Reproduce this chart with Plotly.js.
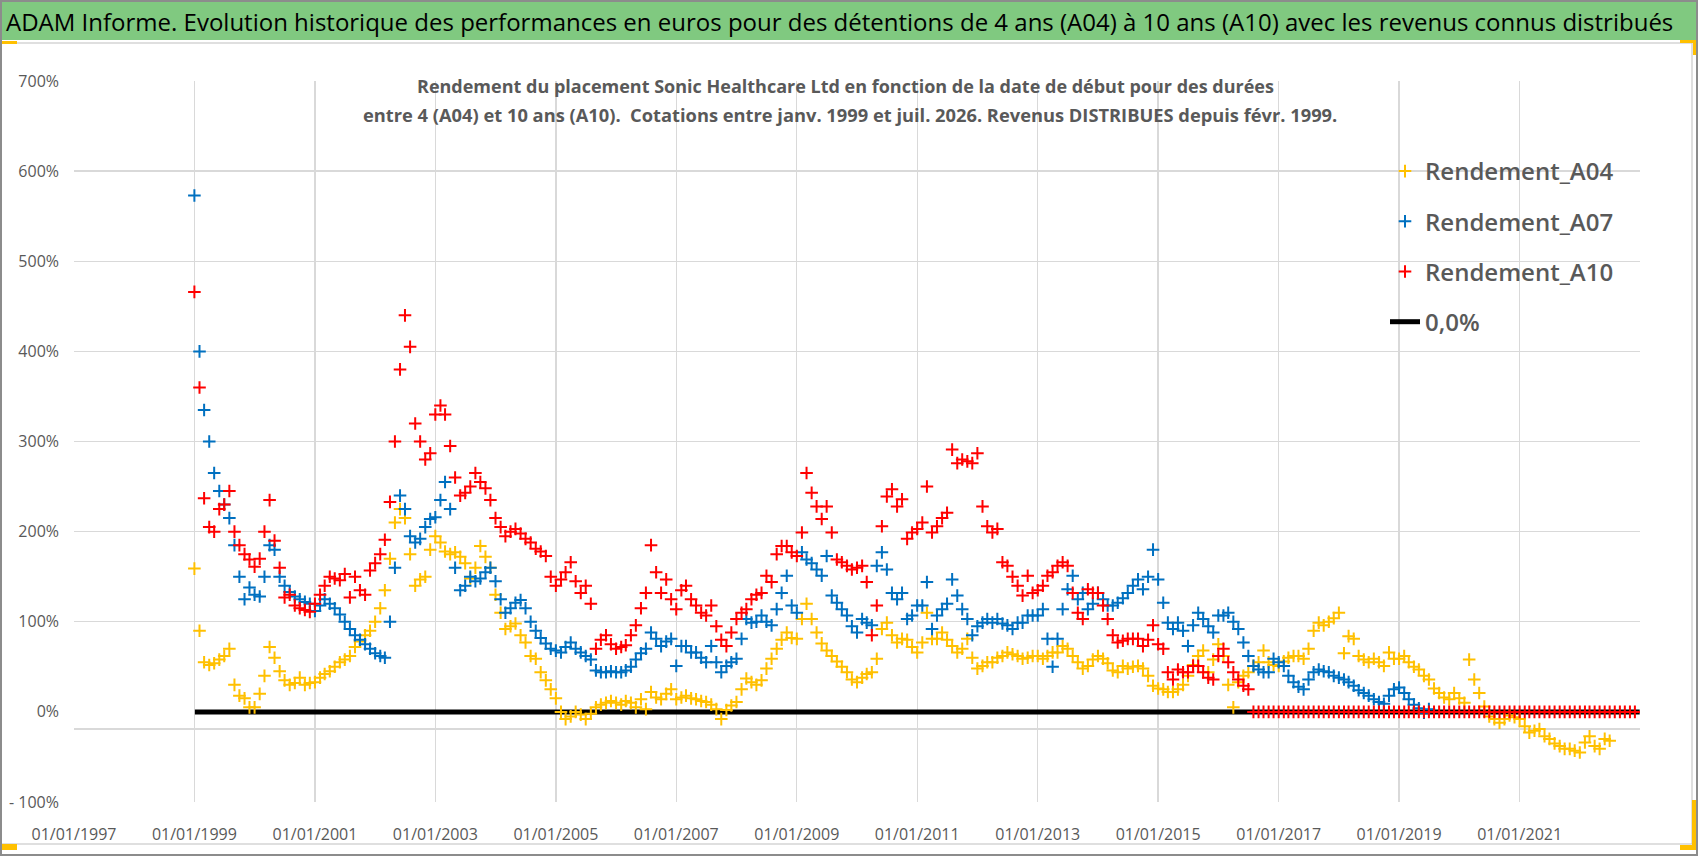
<!DOCTYPE html>
<html>
<head>
<meta charset="utf-8">
<script src="https://cdn.plot.ly/plotly-3.0.1.min.js"></script>
<style>
  html, body { margin: 0; padding: 0; background: #fff; }
  #wrap { position: relative; width: 1698px; height: 856px; }
  #chart { width: 1698px; height: 856px; }
  #frame { position: absolute; left: 0; top: 0; width: 1698px; height: 856px;
           box-sizing: border-box; border: 2px solid #8c8c8c; pointer-events: none; }
</style>
</head>
<body>
<div id="wrap"><div id="chart"></div><div id="frame"></div></div>
<script>
// monthly readings (first of month), in %
const a04Start = [1999, 1];
const a04 = [
  159, 90, 55, 52, 54, 58, 62, 70, 30, 18, 15, 5,        // 1999
  5, 20, 40, 72, 60, 45, 35, 30, 32, 38, 30, 32,         // 2000
  33, 38, 42, 45, 50, 55, 58, 62, 72, 78, 85, 90,        // 2001
  100, 115, 135, 170, 210, 225, 215, 175, 140, 147, 150, 180,
  195, 188, 178, 175, 177, 172, 165, 148, 160, 184, 172, 160,
  130, 110, 92, 95, 98, 85, 77, 62, 59, 44, 35, 25,      // 2004
  15, 0, -8, -5, 0, -3, -8, -2, 5, 8, 10, 12,
  10, 8, 12, 10, 5, 14, 3, 22, 16, 14, 20, 25,
  14, 16, 18, 15, 14, 12, 11, 8, 3, -8, 2, 7,            // 2007
  11, 25, 37, 33, 30, 35, 48, 59, 70, 80, 88, 82,
  81, 103, 120, 103, 88, 76, 68, 62, 56, 50, 44, 36,
  33, 38, 42, 44, 59, 92, 99, 85, 77, 81, 80, 72,        // 2010
  66, 77, 110, 81, 81, 88, 80, 73, 66, 70, 81, 60,
  48, 51, 55, 55, 60, 62, 66, 64, 62, 59, 60, 62,
  62, 59, 62, 66, 66, 73, 70, 62, 55, 48, 51, 58,        // 2013
  62, 59, 54, 46, 44, 51, 48, 50, 51, 48, 40, 29,
  26, 25, 22, 22, 25, 30, 40, 52, 62, 68, 44, 58,
  75, 62, 30, 5, 33, 40, 44, 51, 55, 68, 55, 52,         // 2016
  51, 56, 60, 62, 62, 59, 70, 90, 99, 96, 100, 104,
  110, 65, 84, 81, 62, 58, 55, 59, 55, 51, 66, 59,
  59, 62, 55, 50, 47, 40, 36, 26, 21, 16, 14, 21,        // 2019
  15, 10, 58, 36, 21, 6, -5, -8, -12, -8, -4, -6,
  -8, -16, -23, -21, -19, -27, -30, -35, -38, -41, -41, -43,
  -45, -34, -27, -38, -41, -30, -32                      // 2022
];

const a07Start = [1999, 1];
const a07 = [
  573, 400, 335, 300, 265, 245, 230, 215, 185, 150, 125, 138,   // 1999
  130, 128, 150, 185, 180, 150, 140, 133, 128, 125, 122, 120,
  112, 118, 125, 120, 115, 108, 100, 92, 85, 80, 75, 70,
  65, 62, 60, 100, 160, 240, 225, 195, 188, 192, 205, 214,      // 2002
  216, 235, 255, 225, 160, 135, 140, 150, 145, 148, 155, 160,
  145, 125, 110, 115, 121, 124, 115, 100, 90, 82, 76, 70,
  68, 66, 72, 77, 70, 66, 62, 58, 46, 44, 44, 45,               // 2005
  44, 44, 46, 50, 58, 65, 70, 88, 81, 73, 78, 81,
  51, 73, 73, 66, 66, 60, 55, 73, 55, 44, 51, 55,
  59, 81, 103, 99, 100, 107, 100, 96, 114, 132, 151, 118,       // 2008
  110, 177, 169, 165, 158, 151, 173, 129, 121, 114, 107, 95,
  88, 103, 99, 96, 162, 177, 158, 132, 125, 132, 103, 107,
  118, 118, 144, 92, 107, 114, 120, 147, 129, 114, 103, 85,     // 2011
  95, 99, 103, 99, 103, 98, 96, 92, 99, 99, 107, 107,
  107, 114, 81, 50, 81, 114, 136, 151, 125, 132, 114, 120,
  132, 125, 118, 118, 121, 126, 132, 140, 147, 136, 150, 180,   // 2014
  147, 121, 99, 92, 99, 90, 73, 96, 110, 103, 95, 88,
  107, 107, 110, 100, 92, 77, 62, 51, 47, 44, 44, 59,
  55, 51, 40, 33, 28, 25, 36, 44, 47, 45, 44, 40,               // 2017
  38, 36, 33, 29, 24, 21, 18, 14, 11, 9, 18, 25,
  27, 21, 14, 8, 4, -1, 3                                       // 2019
];

const a10Start = [1999, 1];
const a10 = [
  466, 360, 237, 205, 200, 225, 230, 245, 200, 185, 175, 169,   // 1999
  161, 170, 200, 235, 190, 160, 127, 130, 118, 115, 113, 111,
  120, 130, 140, 150, 148, 146, 153, 127, 150, 135, 130, 157,
  165, 175, 191, 233, 300, 380, 440, 405, 320, 300, 280, 287,   // 2002
  330, 340, 330, 295, 260, 240, 243, 250, 265, 255, 248, 235,
  215, 205, 195, 200, 203, 198, 192, 188, 181, 178, 173, 150,
  140, 147, 155, 166, 145, 132, 140, 120, 70, 80, 85, 75,       // 2005
  70, 72, 74, 85, 96, 115, 132, 185, 155, 132, 147, 125,
  114, 135, 140, 125, 118, 110, 107, 118, 95, 80, 73, 88,
  103, 110, 114, 125, 130, 132, 151, 144, 175, 184, 184, 177,   // 2008
  173, 199, 265, 243, 228, 214, 228, 199, 169, 166, 162, 158,
  160, 162, 144, 85, 118, 206, 239, 247, 228, 236, 192, 199,
  203, 210, 250, 199, 206, 215, 221, 291, 276, 280, 278, 276,   // 2011
  287, 228, 206, 199, 203, 166, 162, 150, 140, 129, 151, 132,
  135, 140, 151, 155, 162, 166, 162, 132, 110, 103, 136, 132,
  132, 118, 103, 85, 77, 79, 81, 81, 81, 73, 80, 96,            // 2014
  75, 70, 44, 36, 47, 44, 44, 51, 51, 44, 38, 36,
  62, 70, 55, 44, 36, 29, 25,                                   // 2016 (to July)
  0, 0, 0, 0, 0,                                                // Aug-Dec 2016: no data, shown as 0
  0, 0, 0, 0, 0, 0, 0, 0, 0, 0, 0, 0,
  0, 0, 0, 0, 0, 0, 0, 0, 0, 0, 0, 0,
  0, 0, 0, 0, 0, 0, 0, 0, 0, 0, 0, 0,
  0, 0, 0, 0, 0, 0, 0, 0, 0, 0, 0, 0,
  0, 0, 0, 0, 0, 0, 0, 0, 0, 0, 0, 0,
  0, 0, 0, 0, 0, 0, 0, 0, 0, 0, 0, 0                            // 2022
];

const zeroLineDates = ['1999-01-04', '2022-12-30'];
const zeroLineValues = [0, 0];

const xTicks = ['1997-01-01', '1999-01-01', '2001-01-01', '2003-01-01', '2005-01-01', '2007-01-01',
                '2009-01-01', '2011-01-01', '2013-01-01', '2015-01-01', '2017-01-01', '2019-01-01', '2021-01-01'];
const yTicks = [-100, 0, 100, 200, 300, 400, 500, 600, 700];
const yTickText = ['- 100%', '0%', '100%', '200%', '300%', '400%', '500%', '600%', '700%'];
// excel puts the horizontal lines here (none at 0, one a bit below it)
const gridLevels = [-100, -19, 100, 200, 300, 400, 500, 600, 700];

const seriesNames = ['Rendement_A04', 'Rendement_A07', 'Rendement_A10', '0,0%'];

const TITLE = 'ADAM Informe. Evolution historique des performances en euros pour des détentions de 4 ans (A04) à 10 ans (A10) avec les revenus connus distribués';
const SUB1 = 'Rendement du placement Sonic Healthcare Ltd en fonction de la date de début pour des durées';
const SUB2 = 'entre 4 (A04) et 10 ans (A10).  Cotations entre janv. 1999 et juil. 2026. Revenus DISTRIBUES depuis févr. 1999.';

const FONT = '"Open Sans", "Noto Sans", sans-serif';
const GREY = '#595959';
const GRID = '#d9d9d9';

// plot area in pixels, used to place boxes/texts around it
const W = 1698, H = 856;
const plotL = 74, plotR = 1640, plotT = 81, plotB = 802;
function px(x) { return (x - plotL) / (plotR - plotL); }
function py(y) { return (plotB - y) / (plotB - plotT); }

function monthDates(start, n) {
  let out = [];
  for (let i = 0; i < n; i++) {
    let m = start[1] - 1 + i;
    let y = start[0] + Math.floor(m / 12);
    let mm = (m % 12) + 1;
    out.push(y + '-' + (mm < 10 ? '0' : '') + mm + '-01');
  }
  return out;
}

function crossTrace(name, start, values, color, rank) {
  return {
    x: monthDates(start, values.length),
    y: values,
    mode: 'markers',
    type: 'scatter',
    name: name,
    legendrank: rank,
    legendgroup: name,
    marker: { symbol: 'cross-thin', size: 9, color: color, line: { color: color, width: 2 } },
    hoverinfo: 'skip'
  };
}

let data = [];
// the 0% line goes under the crosses
data.push({
  x: zeroLineDates, y: zeroLineValues, mode: 'lines', type: 'scatter',
  name: seriesNames[3], legendrank: 4, legendgroup: 'zero',
  line: { color: '#000000', width: 5 }, hoverinfo: 'skip'
});
data.push(crossTrace(seriesNames[0], a04Start, a04, '#ffc000', 1));
data.push(crossTrace(seriesNames[1], a07Start, a07, '#0070c0', 2));
data.push(crossTrace(seriesNames[2], a10Start, a10, '#ff0000', 3));
// empty trace so the grid-only axis exists
data.push({ x: [], y: [], yaxis: 'y2', type: 'scatter', mode: 'markers', showlegend: false, hoverinfo: 'skip' });

function rect(x0, y0, x1, y1, fill, layer) {
  return { type: 'rect', xref: 'paper', yref: 'paper', x0: px(x0), x1: px(x1), y0: py(y1), y1: py(y0),
           fillcolor: fill, line: { width: 0 }, layer: layer || 'above' };
}

let shapes = [
  rect(0, 2, W, 40, '#80c980'),                       // title banner
  { type: 'rect', xref: 'paper', yref: 'paper', x0: px(1), x1: px(1692), y0: py(844), y1: py(43),
    line: { color: '#bfbfbf', width: 1 }, fillcolor: 'rgba(0,0,0,0)' },
  rect(347, 50, 1342, 135, '#ffffff', 'between'),     // behind the chart title
  rect(1385, 148, plotR, 347, '#ffffff', 'between'),  // behind the legend
  // excel selection handles
  rect(0, 41, 17, 44, '#ffc000'),
  rect(0, 844, 17, 850, '#ffc000'),
  rect(1680, 40, 1696, 43, '#ffc000'),
  rect(1693, 40, 1696, 55, '#ffc000'),
  rect(1692, 800, 1696, 850, '#ffc000'),
  rect(1680, 845, 1696, 850, '#ffc000')
];

let annotations = [
  { text: TITLE, xref: 'paper', yref: 'paper', x: px(839), y: py(21), xanchor: 'center', yanchor: 'middle',
    showarrow: false, font: { family: FONT, size: 24, color: '#000000' } },
  { text: SUB1, xref: 'paper', yref: 'paper', x: px(845), y: py(86), xanchor: 'center', yanchor: 'middle',
    showarrow: false, font: { family: FONT, size: 18, color: GREY, weight: 'bold' } },
  { text: SUB2, xref: 'paper', yref: 'paper', x: px(850), y: py(115), xanchor: 'center', yanchor: 'middle',
    showarrow: false, font: { family: FONT, size: 18.3, color: GREY, weight: 'bold' } }
];

let layout = {
  width: W, height: H,
  margin: { l: plotL, r: W - plotR, t: plotT, b: H - plotB },
  paper_bgcolor: '#ffffff', plot_bgcolor: '#ffffff',
  font: { family: FONT, color: GREY },
  showlegend: true,
  legend: {
    x: px(1385), y: py(149), xanchor: 'left', yanchor: 'top',
    bgcolor: 'rgba(0,0,0,0)', borderwidth: 0,
    font: { family: FONT, size: 24, color: GREY, weight: 600 },
    tracegroupgap: 16
  },
  xaxis: {
    type: 'date', range: ['1997-01-01', '2023-01-01'],
    tickmode: 'array', tickvals: xTicks, tickformat: '%d/%m/%Y',
    tickfont: { family: FONT, size: 16, color: GREY },
    showgrid: true, gridcolor: GRID, gridwidth: 1.3,
    zeroline: false, showline: false, ticks: '', ticklabelstandoff: 21
  },
  yaxis: {
    range: [-100, 700], tickmode: 'array', tickvals: yTicks, ticktext: yTickText,
    tickfont: { family: FONT, size: 16, color: GREY },
    showgrid: false, zeroline: false, showline: false, ticks: '', ticklabelstandoff: 14
  },
  yaxis2: {
    range: [-100, 700], overlaying: 'y', side: 'left', tickmode: 'array', tickvals: gridLevels,
    showticklabels: false, showgrid: true, gridcolor: GRID, gridwidth: 1.3,
    zeroline: false, showline: false, ticks: ''
  },
  shapes: shapes,
  annotations: annotations
};

Plotly.newPlot('chart', data, layout, { displayModeBar: false, staticPlot: true });
</script>
</body>
</html>
